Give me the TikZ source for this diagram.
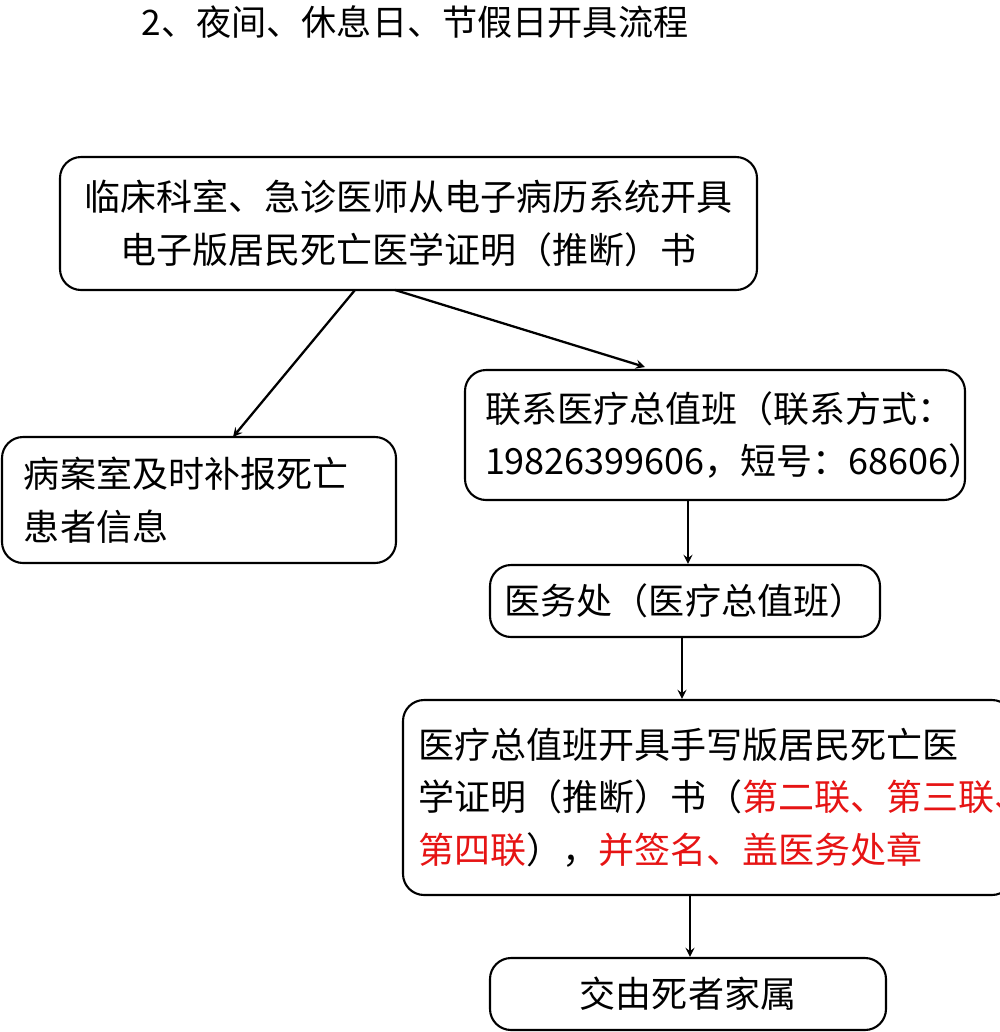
\documentclass[tikz,border=0pt]{standalone}
\usepackage{fontspec}
\setmainfont{Noto Sans CJK SC}
\usetikzlibrary{arrows}
\definecolor{hired}{RGB}{230,20,20}
\tikzstyle{flowbox} = [rectangle, rounded corners=12pt, draw=black, line width=1.2pt, inner sep=0pt, font=\fontsize{20.5}{30}\selectfont]
\tikzstyle{arrow} = [line width=1.3pt,->,>=stealth]
\begin{document}
\begin{tikzpicture}[x=0.02cm, y=-0.02cm]
        \useasboundingbox (0,0) rectangle (1000,1032);
        \node (title) [font=\fontsize{20}{24}\selectfont] at (415,22) {2、夜间、休息日、节假日开具流程};

        \node (node0) [flowbox, minimum width=697*0.02cm, minimum height=133*0.02cm, align=center] at (408.5,223.5)
            {临床科室、急诊医师从电子病历系统开具\\电子版居民死亡医学证明（推断）书};
        \node (node1) [flowbox, minimum width=394*0.02cm, minimum height=126*0.02cm, text width=350*0.02cm, align=left] at (199,500)
            {病案室及时补报死亡\\患者信息};
        \node (node2) [flowbox, minimum width=500*0.02cm, minimum height=130*0.02cm, text width=460*0.02cm, align=left] at (715,435)
            {联系医疗总值班（联系方式：\\19826399606，短号：68606）};
        \node (node3) [flowbox, minimum width=390*0.02cm, minimum height=72*0.02cm] at (685,601)
            {医务处（医疗总值班）};
        \node (node4) [flowbox, minimum width=610*0.02cm, minimum height=195*0.02cm, text width=580*0.02cm, align=left] at (708,797.5)
            {医疗总值班开具手写版居民死亡医\\学证明（推断）书（\textcolor{hired}{第二联、第三联、}\\\textcolor{hired}{第四联}），\textcolor{hired}{并签名、盖医务处章}};
        \node (node5) [flowbox, minimum width=396*0.02cm, minimum height=72*0.02cm] at (688,994)
            {交由死者家属};

        \coordinate (a0) at (355,290);
        \coordinate (a1) at (233,437);
        \coordinate (b0) at (395,290);
        \coordinate (b1) at (645,367);
        \draw [arrow] (a0) -- (a1);
        \draw [arrow] (b0) -- (b1);
        \draw [arrow] (node2.south -| 688,0) -- (node3.north -| 688,0);
        \draw [arrow] (node3.south -| 682,0) -- (node4.north -| 682,0);
        \draw [arrow] (node4.south -| 690,0) -- (node5.north -| 690,0);
    \end{tikzpicture}
\end{document}
